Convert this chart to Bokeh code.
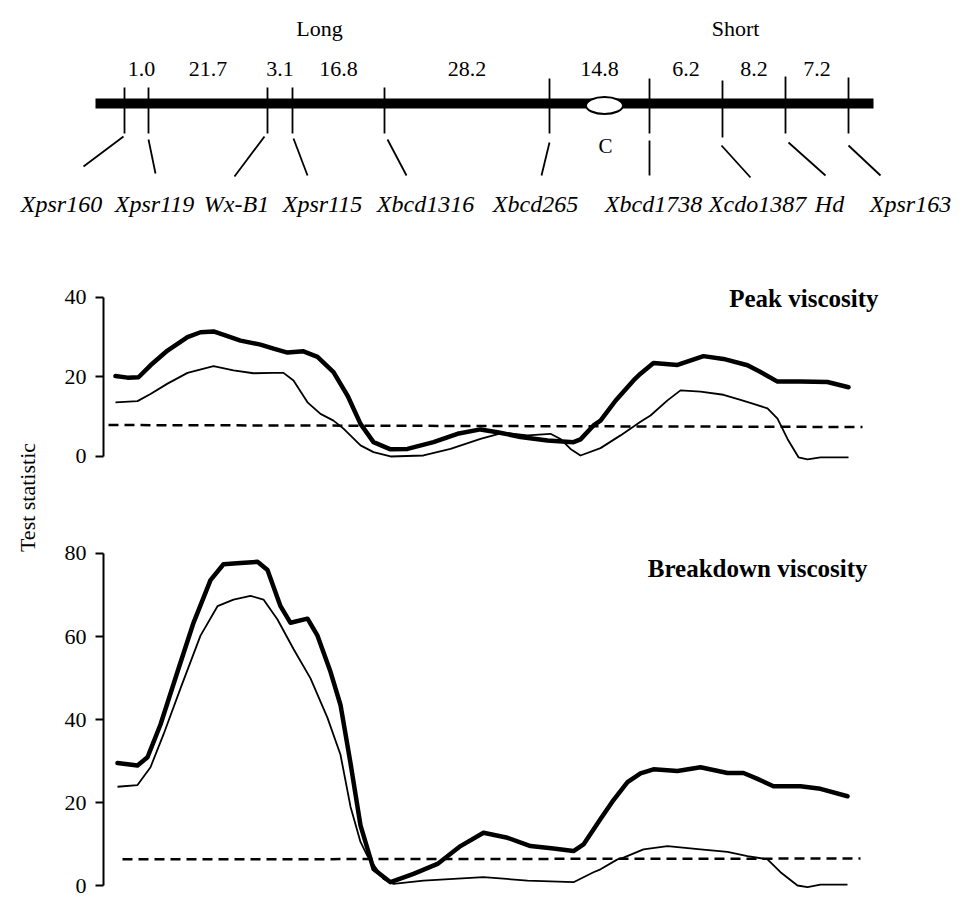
import numpy as np
from bokeh.plotting import figure
from bokeh.layouts import column, row
from bokeh.models import Range1d, FixedTicker, Label
from bokeh.core.properties import value
from bokeh.embed import file_html
from bokeh.resources import INLINE

# ---------------- data ----------------
arm_names = ["Long", "Short"]
marker_names = ["Xpsr160", "Xpsr119", "Wx-B1", "Xpsr115", "Xbcd1316",
                "Xbcd265", "Xbcd1738", "Xcdo1387", "Hd", "Xpsr163"]
interval_cM = ["1.0", "21.7", "3.1", "16.8", "28.2", "14.8", "6.2", "8.2", "7.2"]
# marker position along the drawn map (shared x axis of the QTL panels)
marker_pos = [124, 148, 267, 292, 384, 549, 649, 722, 785, 848]
centromere_pos = 604

peak_bold_x = [115, 127, 138, 150, 167, 187, 200, 213, 227, 240, 260, 273, 287, 303, 317, 333,
               347, 360, 373, 390, 407, 433, 457, 480, 497, 520, 547, 573, 580, 593, 600, 615,
               633, 640, 653, 677, 703, 723, 747, 760, 777, 800, 827, 848]
peak_bold = [20.2, 19.8, 19.9, 22.9, 26.6, 30.0, 31.2, 31.4, 30.2, 29.1, 28.1, 27.1, 26.1, 26.4, 25.0, 21.2,
             15.3, 8.2, 3.6, 1.8, 1.9, 3.6, 5.7, 6.8, 6.1, 4.9, 4.0, 3.6, 4.3, 7.8, 9.0, 14.0,
             19.1, 20.8, 23.5, 23.0, 25.2, 24.5, 22.9, 21.2, 18.8, 18.8, 18.7, 17.4]

peak_thin_x = [115, 137, 150, 167, 187, 213, 233, 253, 273, 283, 293, 307, 320, 333, 343, 360,
               373, 390, 423, 450, 480, 503, 527, 550, 560, 570, 580, 600, 620, 640, 650, 667,
               680, 700, 723, 740, 753, 767, 777, 787, 798, 807, 820, 848]
peak_thin = [13.6, 13.9, 15.7, 18.3, 21.0, 22.7, 21.6, 20.9, 21.0, 21.0, 19.1, 13.6, 10.7, 9.0, 7.0, 2.8,
             1.1, 0.0, 0.25, 1.9, 4.4, 6.0, 5.3, 5.7, 4.4, 1.9, 0.25, 2.1, 5.3, 8.7, 10.3, 14.1,
             16.6, 16.3, 15.5, 14.2, 13.2, 12.1, 9.5, 4.4, -0.2, -0.75, -0.2, -0.2]
peak_threshold_x = [108, 862]
peak_threshold = [7.9, 7.4]

bd_bold_x = [117, 137, 147, 160, 177, 193, 210, 223, 240, 257, 267, 280, 290, 307, 317, 330,
             340, 350, 360, 373, 390, 413, 437, 460, 483, 507, 530, 553, 573, 583, 600, 613,
             627, 640, 653, 677, 700, 727, 743, 757, 773, 800, 820, 847]
bd_bold = [29.5, 28.9, 30.9, 38.8, 51.5, 63.3, 73.6, 77.4, 77.7, 78.0, 76.0, 67.3, 63.3, 64.3, 60.2, 51.5,
           43.5, 29.5, 14.5, 4.0, 0.8, 2.8, 5.2, 9.5, 12.7, 11.5, 9.5, 8.9, 8.3, 9.9, 16.0, 20.6,
           24.9, 27.0, 28.0, 27.6, 28.5, 27.1, 27.1, 25.7, 23.9, 23.9, 23.3, 21.5]

bd_thin_x = [117, 137, 150, 163, 180, 200, 217, 233, 250, 263, 277, 293, 310, 327, 340, 350,
             360, 367, 383, 393, 423, 483, 527, 573, 593, 600, 617, 623, 643, 667, 700, 727,
             747, 767, 780, 797, 807, 820, 847]
bd_thin = [23.8, 24.2, 28.5, 36.4, 47.5, 60.2, 67.3, 68.9, 69.8, 68.9, 64.1, 57.0, 49.9, 40.4, 31.5, 19.0,
           10.5, 7.1, 1.6, 0.4, 1.2, 2.0, 1.2, 0.8, 3.2, 3.9, 6.3, 6.7, 8.7, 9.5, 8.7, 8.1,
           7.1, 6.3, 3.2, 0.0, -0.4, 0.2, 0.2]
bd_threshold_x = [122, 860]
bd_threshold = [6.3, 6.5]

panel_titles = ["Peak viscosity", "Breakdown viscosity"]
peak_ticks = [0, 20, 40]
bd_ticks = [0, 20, 40, 60, 80]
y_title = "Test statistic"

# ---------------- styling / layout ----------------
SERIF = "Liberation Serif"
MAP_H = 240


def Y(py):
    return MAP_H - py


# ---- chromosome map ----
pm = figure(width=965, height=MAP_H, x_range=Range1d(0, 965), y_range=Range1d(0, MAP_H),
            x_axis_type=None, y_axis_type=None, output_backend="svg", toolbar_location=None,
            min_border=0, outline_line_color=None)
pm.grid.visible = False

pm.quad(left=95, right=873, bottom=Y(108), top=Y(98), fill_color="black", line_color=None)
tick_top = [87, 87, 87, 87, 87, 78, 78, 80, 76, 77]
tick_bot = [133, 133, 133, 133, 133, 133, 133, 137, 133, 133]
pm.segment(x0=marker_pos, y0=[Y(t) for t in tick_top], x1=marker_pos, y1=[Y(b) for b in tick_bot],
           line_color="black", line_width=1.8)
pm.ellipse(x=centromere_pos, y=Y(105), width=37, height=17, fill_color="white",
           line_color="black", line_width=2)

lead_x0 = [123, 148, 264, 293, 387, 549, 649, 721, 788, 848]
lead_y0 = [136, 139, 136, 138, 139, 142, 140, 145, 142, 145]
lead_x1 = [83, 155, 234, 307, 406, 541, 649, 750, 825, 880]
lead_y1 = [166, 173, 176, 175, 175, 175, 175, 177, 175, 175]
pm.segment(x0=lead_x0, y0=[Y(v) for v in lead_y0], x1=lead_x1, y1=[Y(v) for v in lead_y1],
           line_color="black", line_width=1.8)

label_x = [61, 154, 236, 322, 425, 535, 653, 757, 829, 910]
pm.text(x=label_x, y=[Y(203)] * len(label_x), text=marker_names, text_font=value(SERIF),
        text_font_size="24px", text_font_style="italic", text_align="center",
        text_baseline="alphabetic", text_color="black")

mid = [(a + b) / 2 for a, b in zip(marker_pos[:-1], marker_pos[1:])]
mid[0] += 5
pm.text(x=mid, y=[Y(68)] * len(mid), text=interval_cM, text_font=value(SERIF),
        text_font_size="22px", text_align="center", text_baseline="alphabetic", text_color="black")
pm.text(x=[319, 735], y=[Y(28)] * 2, text=arm_names, text_font=value(SERIF),
        text_font_size="22px", text_align="center", text_baseline="alphabetic", text_color="black")
pm.text(x=[centromere_pos + 1], y=[Y(145)], text=["C"], text_font=value(SERIF),
        text_font_size="21px", text_align="center", text_baseline="alphabetic", text_color="black")

# ---- y-title column ----
LOW_H = 897 - MAP_H
pl = figure(width=45, height=LOW_H, x_range=Range1d(0, 45), y_range=Range1d(0, LOW_H),
            x_axis_type=None, y_axis_type=None, output_backend="svg", toolbar_location=None,
            min_border=0, outline_line_color=None)
pl.grid.visible = False
pl.add_layout(Label(x=27, y=897 - 497, text=y_title, angle=np.pi / 2, text_align="center",
                    text_baseline="middle", text_font=SERIF, text_font_size="22px",
                    text_color="black"))


def panel(height, yr, ticks):
    p = figure(width=920, height=height, x_range=Range1d(103, 965), y_range=Range1d(*yr),
               x_axis_type=None, output_backend="svg", toolbar_location=None,
               min_border_left=58, min_border_right=0, min_border_top=0, min_border_bottom=0,
               outline_line_color=None)
    p.ygrid.grid_line_color = None
    ax = p.yaxis[0]
    ax.ticker = FixedTicker(ticks=ticks)
    ax.bounds = (ticks[0], ticks[-1])
    ax.axis_line_width = 2
    ax.axis_line_color = "black"
    ax.major_tick_line_width = 2
    ax.major_tick_line_color = "black"
    ax.major_tick_out = 8
    ax.major_tick_in = 0
    ax.minor_tick_out = 0
    ax.minor_tick_in = 0
    ax.major_label_text_font = SERIF
    ax.major_label_text_font_size = "22px"
    ax.major_label_text_color = "black"
    ax.major_label_standoff = 9
    return p


pp = panel(240, (-6.03, 54.24), peak_ticks)
pp.line(peak_threshold_x, peak_threshold, line_color="black", line_width=2.5, line_dash="10 6")
pp.line(peak_thin_x, peak_thin, line_color="black", line_width=1.8, line_join="round")
pp.line(peak_bold_x, peak_bold, line_color="black", line_width=4.5, line_join="round", line_cap="round")
pp.text(x=[878], y=[39.7], text=[panel_titles[0]], text_font=value(SERIF), text_font_size="25px",
        text_font_style="bold", text_align="right", text_baseline="alphabetic", text_color="black")

# zero at page y 885, 80 at page y 553 -> 4.15 px per unit
pb = panel(LOW_H - 240, (-2.89, 97.59), bd_ticks)
pb.line(bd_threshold_x, bd_threshold, line_color="black", line_width=2.5, line_dash="10 6")
pb.line(bd_thin_x, bd_thin, line_color="black", line_width=1.8, line_join="round")
pb.line(bd_bold_x, bd_bold, line_color="black", line_width=4.5, line_join="round", line_cap="round")
pb.text(x=[867], y=[76.3], text=[panel_titles[1]], text_font=value(SERIF), text_font_size="25px",
        text_font_style="bold", text_align="right", text_baseline="alphabetic", text_color="black")

layout = column(pm, row(pl, column(pp, pb, spacing=0), spacing=0), spacing=0)
open("out.html", "w").write(file_html(layout, INLINE))
